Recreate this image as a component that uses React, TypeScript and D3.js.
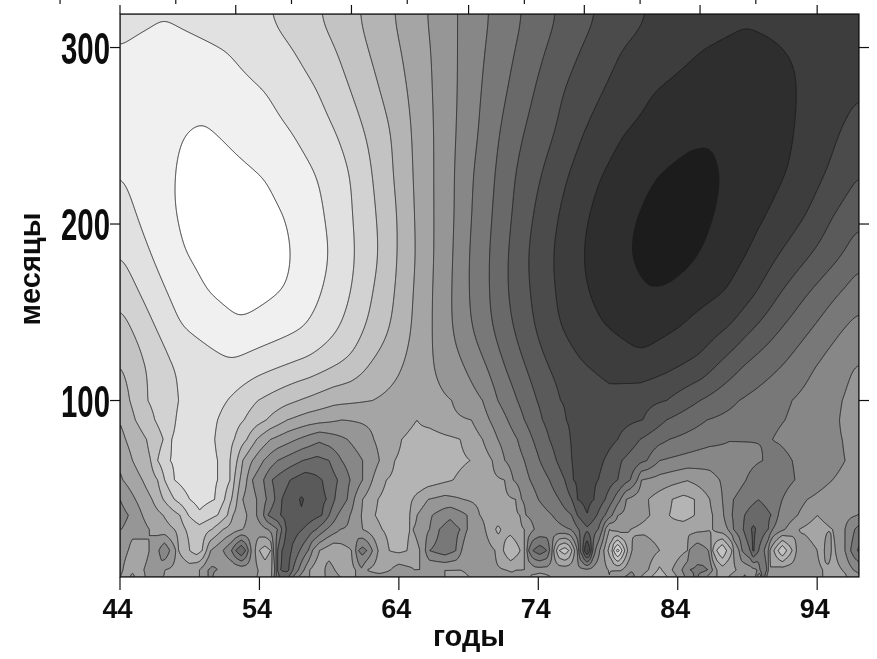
import React, { useMemo } from "react";
import * as d3 from "d3";

// Each profile: [year, contour level] readings along one month row.
const r319 = [[44,2.4],[47,2.2],[54.6,3],[58.2,4],[61.1,5],[63.6,6],[66,7],[68.2,8],[70.5,9],[72.9,10],[75.4,11],[78.3,12],[82,13],[88.8,13.75],[97,13.6]];
const r301 = [[44,2],[47.5,1.55],[51.7,2],[56.3,3],[59.4,4],[61.7,5],[64.1,6],[66.3,7],[68.2,8],[70.2,9],[72.4,10],[74.6,11],[77.1,12],[80,13],[85.8,14],[88.8,14.3],[91.8,14],[97,13.6]];
const r276 = [[44,1.5],[47.5,1.2],[54.5,2],[58.2,3],[60.5,4],[62.6,5],[64.6,6],[66.4,7],[68.2,8],[69.9,9],[71.8,10],[73.7,11],[75.8,12],[78.7,13],[82.2,14],[87.5,14.6],[92.7,14],[97,13.1]];
const r251 = [[44,1.6],[50,0.8],[56.4,2],[59.6,3],[61.6,4],[63.5,5],[64.9,6],[66.5,7],[68.1,8],[69.7,9],[71.2,10],[72.9,11],[75.2,12],[77.2,13],[80,14],[86.3,14.95],[92.5,14],[95.6,13],[97,12.55]];
const r228 = [[44,2],[47.8,1],[51,0.6],[54.5,1],[58.2,2],[60.6,3],[62.1,4],[63.6,5],[65,6],[66.5,7],[68,8],[69.3,9],[70.9,10],[72.3,11],[74.2,12],[76.1,13],[78.4,14],[82.5,15],[85,15.4],[87.2,15],[92,14],[94.7,13],[97,12]];
const r205 = [[44,2.47],[45.1,2],[47.8,1],[51.5,0.4],[56,1],[58.7,2],[60.7,3],[62.4,4],[63.9,5],[65.1,6],[66.5,7],[68,8],[69.2,9],[70.7,10],[72.1,11],[73.6,12],[75.4,13],[77.5,14],[81.1,15],[84,15.7],[86.7,15],[90.5,14],[93.3,13],[95.1,12],[97,11.3]];
const r182 = [[44,3],[46.2,2],[48.5,1],[52.6,0.3],[56.5,1],[59.1,2],[60.9,3],[62.6,4],[63.9,5],[65.2,6],[66.5,7],[67.9,8],[69,9],[70.5,10],[71.8,11],[73.2,12],[75,13],[77.1,14],[80.5,15],[83,15.8],[85.6,15],[89,14],[91.3,13],[93.6,12],[95.9,11],[97,10.3]];
const r160 = [[44,3.8],[45.4,3],[47.4,2],[50.2,1],[53,0.6],[56,1],[58.5,2],[60.6,3],[62.1,4],[63.7,5],[65,6],[66.4,7],[67.8,8],[69,9],[70.5,10],[71.8,11],[73.4,12],[75.2,13],[77.5,14],[82,14.9],[87.5,14],[89.7,13],[91.3,12],[93.2,11],[95.4,10],[97,9.35]];
const r140 = [[44,4.45],[44.9,4],[46.6,3],[48.3,2],[52.5,1.15],[57.3,2],[59.8,3],[61.6,4],[63.4,5],[64.9,6],[66.4,7],[67.8,8],[69.2,9],[70.7,10],[72.2,11],[73.7,12],[75.5,13],[78.6,14],[81.5,14.4],[84.1,14],[87.6,13],[89.4,12],[91.3,11],[93.6,10],[95.8,9],[97,8.6]];
const r123 = [[44,5],[45.8,4],[47.8,3],[52,2],[57.5,3],[60.5,4],[62.1,5],[64.4,6],[66.4,7],[68.5,8],[70.1,9],[71.4,10],[72.9,11],[74.5,12],[77,13],[81.3,13.9],[85.6,13],[87.2,12],[89,11],[91.8,10],[94,9],[96.7,8],[97,7.95]];
const r100 = [[44,5.6],[44.7,5],[46,4],[48.2,3],[50.1,2.4],[51.7,3],[53.9,4],[56.8,5],[59.3,5.7],[62.1,6],[65,6.5],[67.8,7],[70,8],[71.1,9],[72.5,10],[73.9,11],[75.6,12],[79.1,12.7],[83.2,12],[85.6,11],[88.4,10],[92.2,9],[95.8,8],[97,7.6]];
const r89 = [[44,5.9],[45.1,5],[46.5,4],[48,3],[49.4,2.3],[51,3],[52.9,4],[54.5,5],[56,6],[57.5,6.5],[59.9,7],[62.6,6.8],[65.3,6],[67.3,6.8],[69.2,7],[70.5,8],[71.8,9],[73,10],[74.3,11],[76,12],[78.4,12.6],[81.5,12],[83.2,11],[86.1,10],[91.7,9],[95.6,8],[97,7.5]];
const r78 = [[44,6.4],[44.4,6],[45.9,5],[47.1,4],[47.7,3],[49.4,2.4],[50.8,3],[52.2,4],[53.1,5],[53.8,6],[54.8,7],[56.7,8],[58.3,8.8],[60.3,8],[62.2,7],[63.3,6.5],[64.2,6],[66.2,5.5],[68.4,6],[70,7],[71.1,8],[72.5,9],[73.6,10],[74.8,11],[76.3,12],[78.1,12.8],[79.7,12],[81.3,11],[83.4,10],[87.7,9.05],[90.8,9],[93,8.5],[95.8,8],[97,7.6]];
const r66 = [[44,6.7],[44.9,6],[46.2,5],[46.7,4],[47.6,3],[49.4,2.3],[51,3],[51.9,4],[52.4,5],[52.8,6],[53.5,7],[54.3,8],[55.3,9],[57.1,10],[58.1,10.3],[59,10],[59.9,9],[61.4,8],[62.6,7],[63.7,6],[66.2,5.3],[69.1,6],[70.7,7],[71.6,8],[73,9],[74.1,10],[75.3,11],[76.4,12],[77.5,12.7],[78.7,12],[80,11],[81.8,10],[82.7,9],[86.3,8.3],[90.1,9],[91.2,9.4],[92.2,9],[96,8],[97,7.7]];
const r55 = [[44,7.2],[44.2,7],[45.6,6],[46.7,5],[47.2,4],[47.9,3],[49.4,2.2],[51,3],[51.9,4],[52.2,5],[52.6,6],[53.1,7],[53.5,8],[54.3,9],[54.9,10],[56.2,11],[57.3,11.6],[58.5,11],[59.6,10],[60.5,9],[61.4,8],[62.1,7],[63.1,6],[65.5,5.3],[67.9,6],[69.8,6.7],[71.6,7],[72.2,8],[73.4,9],[74.8,10],[75.9,11],[76.5,12],[77.3,12.3],[78.3,12],[79.7,11],[80.6,10],[81.1,9],[81.4,8],[84.7,7.05],[87,8],[88,8.5],[88.9,9],[90.5,9.7],[92.4,9],[95.1,8],[97,7.6]];
const r44 = [[44,8],[45.1,7],[46.3,6],[47.1,5],[47.9,4],[49,3],[49.7,2.6],[50.8,3],[51.5,4],[52,5],[52.4,6],[52.8,7],[53.8,8],[54.5,9],[55.1,10],[55.6,11],[57,12.1],[58.8,11],[59.4,10],[60.3,9],[60.8,8],[61.4,7],[62.5,6],[63.7,5.3],[65,6],[66.1,7],[67.3,7.3],[68.6,7],[70.5,6.6],[72.4,7],[72.8,8],[74,9],[75.5,10],[76.4,11],[76.8,12],[77.4,12.3],[78,12],[78.8,11],[79.4,10],[79.9,9],[80.3,8],[81.9,7],[83.6,6],[84.4,5.7],[85.2,6],[86.3,7],[87.2,8],[88,9],[89.8,9.98],[91.5,9],[93.3,8],[95,7.5],[97,7.9]];
const r35 = [[44,8.4],[44.6,8],[45.6,7],[47.1,6],[48.3,5],[48.9,4],[49.7,3.2],[51,4],[51.7,5],[52.1,6],[53.1,7],[53.8,8],[54.3,9],[54.6,10],[55.5,11],[57,11.9],[58.5,11],[59,10],[59.6,9],[60.5,8],[61.3,7],[62.3,6],[63.5,5.3],[64.8,6],[65.3,7],[66.4,8],[67.7,8.8],[68.9,8],[69.8,7],[71.2,6.5],[72.7,7],[73.1,8],[75,9],[76.4,10],[76.8,11],[77.5,12],[78.2,11],[78.8,10],[79.3,9],[79.7,8],[82,7],[83.4,6],[84.4,5.6],[85.2,6],[86.5,7],[87.3,8],[87.9,9],[88.8,10],[89.7,10.8],[90.7,10],[91.2,9],[92.6,8],[94,7],[94.9,7.4],[96.9,8],[97,8]];
const r27 = [[44,8],[44.1,8],[46.1,7],[47.9,6],[48.7,5],[49.7,4.4],[50.6,5],[51.4,6],[52.8,7],[53.9,7.5],[54.6,8],[55.3,9],[55.6,10],[55.9,11],[56.5,11.4],[57.1,11],[58.1,10],[58.8,9],[59.8,8],[60.3,7.9],[61.4,7],[62.8,6],[63.9,5.5],[64.8,6],[65,7],[66.2,8],[66.9,9],[67.6,9.5],[68.4,9],[68.9,8],[70.2,7],[70.7,6.3],[71.1,5.8],[71.6,6.3],[72,6.4],[73,7],[73.7,8],[75.2,8.6],[76.3,9],[76.9,10],[77.5,10.8],[78.3,10],[78.6,9],[78.8,8],[79.1,7],[79.9,7.6],[80.6,7],[83.4,6.3],[86.5,7],[87.6,8],[88,9],[88.7,10],[89.4,11.2],[90.5,10],[90.8,9],[91.7,8],[92.7,7],[93.8,6.5],[95.1,7],[96,8],[96.7,9],[97,9.4]];
const r15 = [[44,7.3],[44.6,7],[44.9,6.3],[46.1,7],[46.7,7.8],[47.2,8.9],[47.6,7.9],[48,7],[48.2,6],[49,5],[49.5,4.5],[49.9,5],[50.2,6],[50.5,7],[51.4,8],[52,9],[52.3,10],[52.7,11],[53,10],[53.2,9],[53.4,8],[53.7,7],[54,6],[54.4,5.5],[54.8,6],[54.9,7],[55,8],[55.2,9],[55.3,10],[55.6,11],[56,11.5],[56.3,11],[56.9,10],[57.5,9],[57.8,8],[58.3,7],[59.3,6.2],[60.6,7],[60.9,8],[61.1,9],[61.4,9.4],[61.7,9],[62.1,8],[62.5,7],[63.3,6],[64,5.8],[64.6,6],[65.5,7],[65.9,8],[66.2,9],[67.3,9.6],[68.1,9],[68.5,8],[68.9,7],[69.4,8],[70.1,7.5],[70.9,7],[71.5,6],[72,5],[72.7,6],[73,7],[73.2,8],[73.3,9],[73.6,10],[74.1,10.6],[74.6,10],[74.8,9],[75,8],[75.1,7],[75.3,6],[75.5,5],[75.9,4.4],[76.2,5],[76.4,6],[76.6,7],[76.8,8],[76.9,9],[77,10],[77.2,11],[77.3,12],[77.5,13.2],[77.7,12],[77.8,11],[77.9,10],[78.1,9],[78.4,8],[78.7,7],[79,6],[79.3,5],[79.4,4],[79.6,3],[79.7,2.6],[79.8,3],[80,4],[80.2,5],[80.4,6],[80.7,7],[81.6,7.7],[82.7,7],[83.6,6.2],[84.7,7],[84.8,8],[85.4,8.7],[86.2,8],[86.4,7],[86.5,6],[86.8,5],[87.2,4],[87.5,5],[87.9,6],[88,7],[88.4,8],[88.6,9],[89.2,10],[89.4,11.2],[89.8,10],[90.2,9],[90.5,8],[90.6,7],[90.9,6],[91.2,5],[91.5,4],[91.8,5],[92.2,6],[92.5,7],[93.1,7.6],[94,7],[94.4,6.6],[94.8,8],[95.1,6.6],[95.3,7],[96,8],[96.4,9],[96.9,10],[97,10.2]];
const r4 = [[44,7.3],[44.2,7],[45,6.4],[45.7,7],[47,7.6],[47.2,7],[49,6.5],[49.5,6.9],[49.7,7],[50.3,8],[50.6,8.2],[51,8],[51.4,7],[53.5,7.5],[53.9,7],[54.4,6.5],[54.9,7],[55.1,8],[55.2,9],[55.3,10],[55.5,11],[56,11.3],[56.1,11],[56.4,10],[56.8,9],[57.2,8],[57.6,7],[58.2,6.4],[58.7,7],[59,7.5],[59.4,7],[60.1,6.4],[60.9,7],[61.3,7.9],[61.7,7],[62.6,6.5],[63.4,7],[64,7.5],[65.1,7],[68.4,7],[70,7.3],[71.7,7],[72.1,6.9],[72.4,7],[73.2,7],[73.8,7.6],[75.9,7.6],[77.5,7.8],[78.7,7.3],[79,7],[79.9,6.9],[80.6,7.8],[81.2,7.8],[81.9,7],[82.7,5.8],[83.6,7],[84.3,8],[84.8,9],[85.8,9.2],[86.2,9],[86.5,8],[86.8,7],[87.2,6.5],[88.2,7],[89.2,7.5],[89.7,8],[89.9,9],[90.1,10],[90.4,9],[90.6,7],[91.4,7.5],[93,7.6],[94.4,7],[94.9,6.5],[95.8,7],[96.6,8],[97,8.2]];
const r0 = [[44,7],[44.6,6.4],[44.9,7.6],[45.2,6.4],[45.8,7],[46.5,7.4],[47,7],[48.3,6.5],[49.5,6.8],[49.7,7],[50.3,8],[50.6,8.2],[51,7],[52.6,7.4],[53.8,7],[54.4,6.7],[54.9,7],[55.2,9],[55.5,10.2],[55.7,10.5],[56.1,10],[56.4,9],[56.8,8],[57.2,7.2],[57.6,7],[58.2,6.3],[58.7,7],[59.4,7.3],[59.8,7],[61,7],[61.6,7.5],[63.7,7.5],[65.1,7.4],[68.4,6.8],[70,7.3],[73.2,7.2],[74.1,6.3],[75.5,7.5],[77.7,7.2],[79.1,7],[80.7,8.5],[81.2,7.2],[82.7,5.2],[84.1,7.2],[84.8,8.5],[85.3,9.2],[85.9,8.4],[86.4,7.2],[87.2,6.8],[88.4,7.4],[88.8,8.3],[89.2,7.4],[89.7,8.2],[89.9,7],[90.1,10],[90.5,7],[91.7,7.4],[92.7,7.6],[94.2,7.2],[94.6,6.8],[94.9,6.5],[96,6.7],[96.3,7.5],[97,7.8]];

const rowMonths = [319,301,276,251,228,205,182,160,140,123,100,89,78,66,55,44,35,27,15,4,0];
const rowProfiles = [r319,r301,r276,r251,r228,r205,r182,r160,r140,r123,r100,r89,r78,r66,r55,r44,r35,r27,r15,r4,r0];
const levels = [1,2,3,4,5,6,7,8,9,10,11,12,13,14,15];
const xTickYears = [44,54,64,74,84,94];
const yTickMonths = [100,200,300];
const topLongYears = [44,52.3,60.6,69,77.3,85.6,94];
const topShortYears = [39.7,48,56.3,64.6,73,81.3,89.6];

const W = 877, H = 659;
const L = 120, R = 859, T = 14, B = 577;
const FONT = "'Liberation Sans', Arial, sans-serif";

export default function App() {
  const x = d3.scaleLinear().domain([44, 97]).range([L, R]);
  const y = d3.scaleLinear().domain([0, 319]).range([B, T]);
  const gray = d3.scaleLinear<number>().domain([0, 15]).range([255, 30]);

  const contours = useMemo(() => {
    const n = R - L, m = B - T;
    const profiles = rowProfiles.map((p) => {
      const s = [...p].sort((a, b) => a[0] - b[0]);
      return d3.scaleLinear().domain(s.map((d) => d[0])).range(s.map((d) => d[1])).clamp(true);
    });
    const columns = d3.range(n).map((i) => x.invert(L + i + 0.5));
    const colVals = profiles.map((f) => Float64Array.from(columns, (c) => f(c)));
    const rowPx = rowMonths.map((d) => y(d));
    const raw = new Float64Array(n * m);
    let k = 0;
    for (let j = 0; j < m; j++) {
      const py = T + j + 0.5;
      k = Math.min(Math.max(d3.bisectRight(rowPx, py) - 1, 0), rowPx.length - 2);
      const t = Math.max(0, Math.min(1, (py - rowPx[k]) / (rowPx[k + 1] - rowPx[k])));
      for (let i = 0; i < n; i++) raw[j * n + i] = colVals[k][i] * (1 - t) + colVals[k + 1][i] * t;
    }
    const soft = { data: Float64Array.from(raw), width: n, height: m };
    d3.blur2(soft, 5, 15);
    const values = new Float64Array(n * m);
    for (let j = 0; j < m; j++) {
      const w = Math.max(0, Math.min(1, (395 - (T + j)) / 35));
      for (let i = 0; i < n; i++) values[j * n + i] = raw[j * n + i] * (1 - w) + soft.data[j * n + i] * w;
    }
    return d3.contours().size([n, m]).thresholds(levels)(values as unknown as number[]);
  }, []);
  const path = d3.geoPath();

  const bold = { fontFamily: FONT, fontWeight: 700, fill: "#111" } as const;
  return (
    <svg width={W} height={H} style={{ position: "absolute", left: 0, top: 0, background: "#fff" }}>
      <defs>
        <clipPath id="plot"><rect x={L} y={T} width={R - L} height={B - T} /></clipPath>
        <filter id="soft"><feGaussianBlur stdDeviation="0.45" /></filter>
      </defs>
      <g clipPath="url(#plot)">
        <g transform={`translate(${L},${T})`} filter="url(#soft)">
          {contours.map((c) => {
            const g = Math.round(gray(c.value));
            return <path key={c.value} d={path(c as any) || ""} fill={`rgb(${g},${g},${g})`} stroke="#1c1c1c" strokeWidth={0.9} />;
          })}
        </g>
      </g>
      <g stroke="#111" strokeWidth={1.2} fill="none">
        <rect x={L} y={T} width={R - L} height={B - T} />
        {xTickYears.map((d) => <line key={d} x1={x(d)} x2={x(d)} y1={B} y2={B + 13} />)}
        {yTickMonths.map((d) => <line key={d} x1={L - 10} x2={L} y1={y(d)} y2={y(d)} />)}
        {yTickMonths.map((d) => <line key={d} x1={R} x2={R + 10} y1={y(d)} y2={y(d)} />)}
        {topLongYears.map((d) => <line key={d} x1={x(d)} x2={x(d)} y1={5} y2={T} />)}
        {topShortYears.map((d) => <line key={d} x1={x(d)} x2={x(d)} y1={0} y2={4} />)}
      </g>
      <g filter="url(#soft)">
        {xTickYears.map((d) => (
          <text key={d} x={x(d) - 2.5} y={618} textAnchor="middle" fontSize={27} {...bold}>{d}</text>
        ))}
        {yTickMonths.map((d) => (
          <text key={d} x={61} y={y(d) + 16} fontSize={44} textLength={49} lengthAdjust="spacingAndGlyphs" {...bold}>{d}</text>
        ))}
        <text x={469} y={646} textAnchor="middle" fontSize={29} {...bold}>годы</text>
        <text transform="translate(40,269) rotate(-90)" textAnchor="middle" fontSize={29} {...bold}>месяцы</text>
      </g>
    </svg>
  );
}
